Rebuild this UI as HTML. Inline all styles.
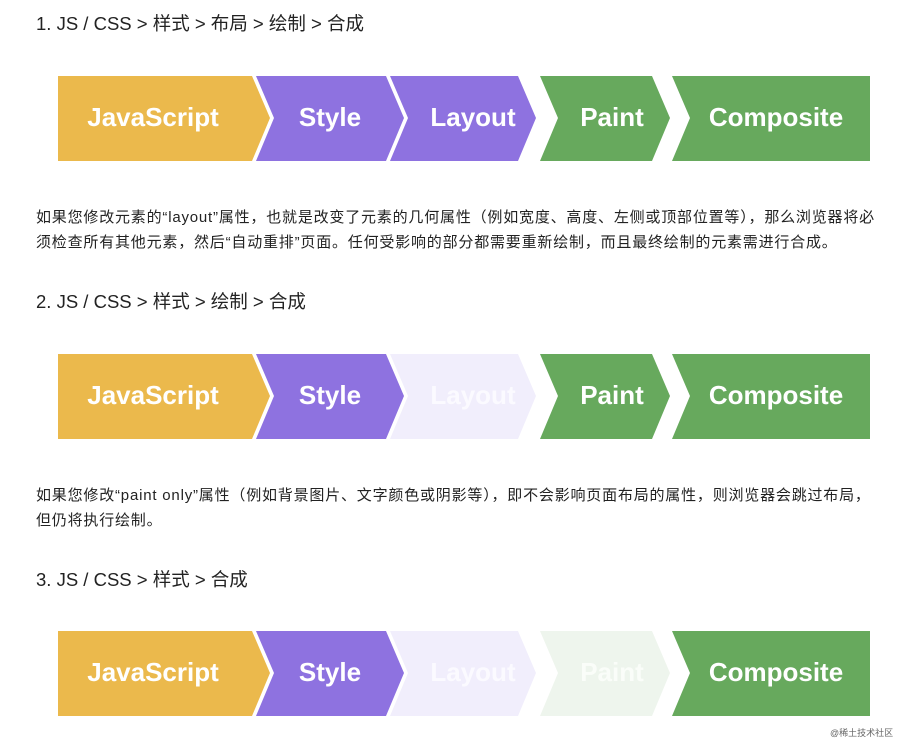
<!DOCTYPE html>
<html><head><meta charset="utf-8"><style>
body{margin:0;width:912px;height:753px;background:#fff;position:relative;overflow:hidden;font-family:"Liberation Sans","Noto Sans CJK SC",sans-serif;color:#222}
.h{position:absolute;left:36px;font-size:18.5px;white-space:nowrap}
.p{position:absolute;left:36px;font-size:15px;letter-spacing:0.8px;line-height:25px;white-space:nowrap}
svg{position:absolute;left:0}
svg text{font-family:"Liberation Sans",sans-serif;font-weight:bold;font-size:26px;text-anchor:middle;dominant-baseline:central}
.wm{position:absolute;left:830px;top:726px;font-size:9px;color:#666}
</style></head><body>
<div class="h" style="top:10px">1. JS / CSS &gt; 样式 &gt; 布局 &gt; 绘制 &gt; 合成</div>
<div class="p" style="top:205px">如果您修改元素的“layout”属性，也就是改变了元素的几何属性（例如宽度、高度、左侧或顶部位置等），那么浏览器将必<br>须检查所有其他元素，然后“自动重排”页面。任何受影响的部分都需要重新绘制，而且最终绘制的元素需进行合成。</div>
<div class="h" style="top:288px">2. JS / CSS &gt; 样式 &gt; 绘制 &gt; 合成</div>
<div class="p" style="top:483px">如果您修改“paint only”属性（例如背景图片、文字颜色或阴影等），即不会影响页面布局的属性，则浏览器会跳过布局，<br>但仍将执行绘制。</div>
<div class="h" style="top:566px">3. JS / CSS &gt; 样式 &gt; 合成</div>

<svg width="912" height="753" viewBox="0 0 912 753">
<g transform="translate(0,76)">
<polygon points="58,0 252,0 270,42 252,85 58,85" fill="#ebb94c"/>
<polygon points="256,0 386,0 404,42 386,85 256,85 274,42" fill="#8e72e0"/>
<polygon points="390,0 518,0 536,42 518,85 390,85 408,42" fill="#8e72e0"/>
<polygon points="540,0 652,0 670,42 652,85 540,85 558,42" fill="#67a95d"/>
<polygon points="672,0 870,0 870,85 672,85 690,42" fill="#67a95d"/>
<text x="153" y="41" fill="#fff">JavaScript</text>
<text x="330" y="41" fill="#fff">Style</text>
<text x="473" y="41" fill="#fff">Layout</text>
<text x="612" y="41" fill="#fff">Paint</text>
<text x="776" y="41" fill="#fff">Composite</text>
</g>
<g transform="translate(0,354)">
<polygon points="58,0 252,0 270,42 252,85 58,85" fill="#ebb94c"/>
<polygon points="256,0 386,0 404,42 386,85 256,85 274,42" fill="#8e72e0"/>
<polygon points="390,0 518,0 536,42 518,85 390,85 408,42" fill="#f1eefc"/>
<polygon points="540,0 652,0 670,42 652,85 540,85 558,42" fill="#67a95d"/>
<polygon points="672,0 870,0 870,85 672,85 690,42" fill="#67a95d"/>
<text x="153" y="41" fill="#fff">JavaScript</text>
<text x="330" y="41" fill="#fff">Style</text>
<text x="473" y="41" fill="#fbfaff">Layout</text>
<text x="612" y="41" fill="#fff">Paint</text>
<text x="776" y="41" fill="#fff">Composite</text>
</g>
<g transform="translate(0,631)">
<polygon points="58,0 252,0 270,42 252,85 58,85" fill="#ebb94c"/>
<polygon points="256,0 386,0 404,42 386,85 256,85 274,42" fill="#8e72e0"/>
<polygon points="390,0 518,0 536,42 518,85 390,85 408,42" fill="#f1eefc"/>
<polygon points="540,0 652,0 670,42 652,85 540,85 558,42" fill="#eef5ed"/>
<polygon points="672,0 870,0 870,85 672,85 690,42" fill="#67a95d"/>
<text x="153" y="41" fill="#fff">JavaScript</text>
<text x="330" y="41" fill="#fff">Style</text>
<text x="473" y="41" fill="#fbfaff">Layout</text>
<text x="612" y="41" fill="#fafdf9">Paint</text>
<text x="776" y="41" fill="#fff">Composite</text>
</g>
</svg>
<div class="wm">@稀土技术社区</div>
</body></html>
